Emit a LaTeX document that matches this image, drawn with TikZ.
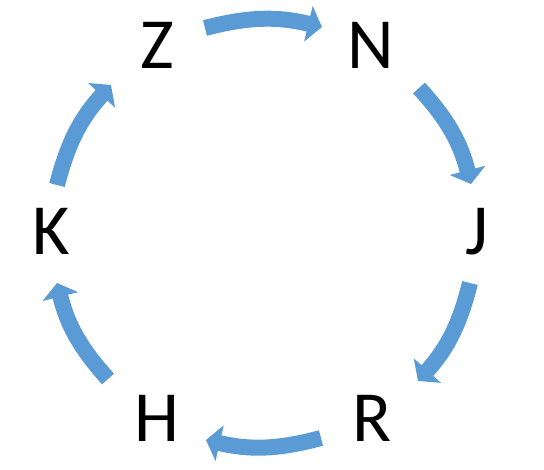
\documentclass[tikz,border=0pt]{standalone}
\usepackage{fontspec}
\setmainfont{Carlito}
\usetikzlibrary{arrows.meta}
\definecolor{arrowblue}{HTML}{5B9BD5}
\tikzset{
  letter/.style={inner sep=0pt, font=\fontsize{72}{80}\selectfont, text=black},
  cyclearrow/.style={draw=arrowblue, line width=16pt,
    -{Triangle[width=36pt,length=14pt]}, bend left=14}
}
\begin{document}
\begin{tikzpicture}[x=1pt,y=-1pt]
\useasboundingbox (0,0) rectangle (544,470);
\node[letter] (Z) at (157,45) {Z};
\node[letter] (N) at (371,45) {N};
\node[letter] (J) at (477,232) {J};
\node[letter] (R) at (372,418) {R};
\node[letter] (H) at (157,418) {H};
\node[letter] (K) at (51,231) {K};
\coordinate (zn1) at (205,28);  \coordinate (zn2) at (322,27);
\coordinate (nj1) at (419,88);  \coordinate (nj2) at (471,184);
\coordinate (jr1) at (470,283); \coordinate (jr2) at (418,381);
\coordinate (rh1) at (321,438); \coordinate (rh2) at (206,440);
\coordinate (hk1) at (108,379); \coordinate (hk2) at (57,283);
\coordinate (kz1) at (57,185);  \coordinate (kz2) at (111,85);
\draw[cyclearrow] (zn1) to (zn2);
\draw[cyclearrow] (nj1) to (nj2);
\draw[cyclearrow] (jr1) to (jr2);
\draw[cyclearrow] (rh1) to (rh2);
\draw[cyclearrow] (hk1) to (hk2);
\draw[cyclearrow] (kz1) to (kz2);
\end{tikzpicture}
\end{document}
